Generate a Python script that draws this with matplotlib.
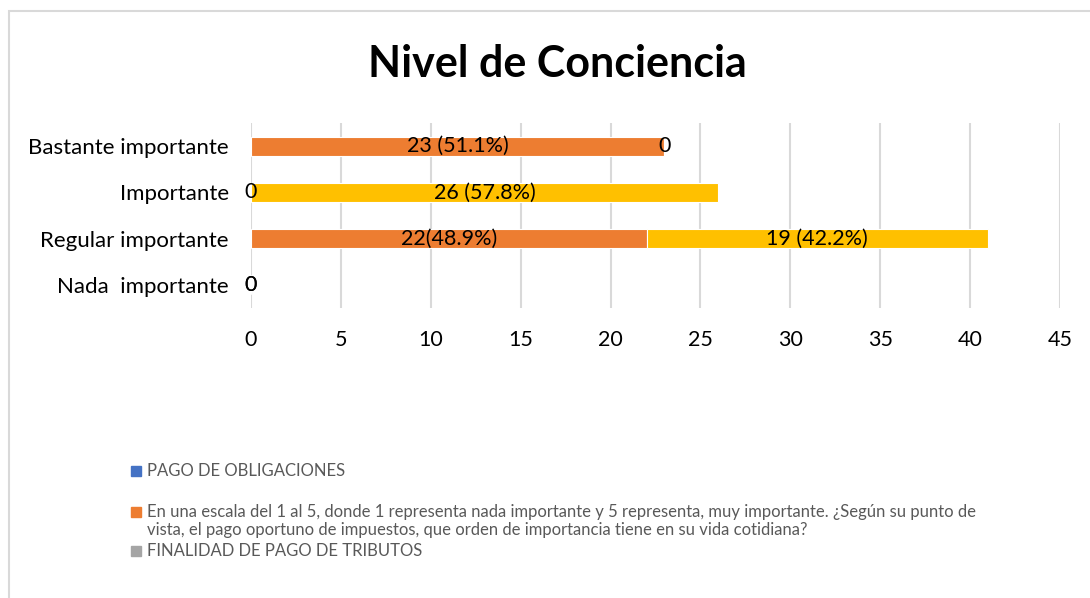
import matplotlib
matplotlib.use('Agg')
import matplotlib.pyplot as plt
from matplotlib.patches import Rectangle

# Data
categories = ['Nada  importante', 'Regular importante', 'Importante', 'Bastante importante']
orange_vals = [0, 22, 0, 23]
yellow_vals = [0, 19, 26, 0]
orange_labels = ['0', '22(48.9%)', '0', '23 (51.1%)']
yellow_labels = ['0', '19 (42.2%)', '26 (57.8%)', '0']
x_ticks = [0, 5, 10, 15, 20, 25, 30, 35, 40, 45]

legend_names = ['PAGO DE OBLIGACIONES',
                'En una escala del 1 al 5, donde 1 representa nada importante y 5 representa, muy importante. ¿Según su punto de\n'
                'vista, el pago oportuno de impuestos, que orden de importancia tiene en su vida cotidiana?',
                'FINALIDAD DE PAGO DE TRIBUTOS']
legend_colors = ['#4472C4', '#ED7D31', '#A5A5A5']

plt.rcParams['font.family'] = ['Lato', 'DejaVu Sans']

fig = plt.figure(figsize=(10.9, 5.98), dpi=100)
ax = fig.add_axes([251 / 1090, 1 - 308 / 598, 809 / 1090, 185 / 598])

y = range(len(categories))
b1 = ax.barh(y, orange_vals, height=0.41, color='#ED7D31', edgecolor='white', linewidth=0.8, zorder=3)
b2 = ax.barh(y, yellow_vals, left=orange_vals, height=0.41, color='#FFC000', edgecolor='white', linewidth=0.8, zorder=3)
ax.bar_label(b1, labels=orange_labels, label_type='center', fontsize=15.5, zorder=4)
ax.bar_label(b2, labels=yellow_labels, label_type='center', fontsize=15.5, zorder=4)

ax.set_xlim(0, 45)
ax.set_ylim(-0.5, 3.5)
ax.set_xticks(x_ticks)
ax.set_yticks(list(y))
ax.set_yticklabels(categories)
ax.tick_params(axis='x', length=0, labelsize=15.5, pad=16)
ax.tick_params(axis='y', length=0, labelsize=16, pad=16)
ax.grid(axis='x', color='#d9d9d9', linewidth=1.5, zorder=0)
for s in ax.spines.values():
    s.set_visible(False)

fig.text(0.511, 1 - 64 / 598, 'Nivel de Conciencia', ha='center', va='center',
         fontsize=31, fontweight='bold')

# Legend drawn by hand to keep the original spacing
legend_y = [471, 512, 551]
text_y = [471, 521, 551]
for name, col, ly, ty in zip(legend_names, legend_colors, legend_y, text_y):
    fig.patches.append(Rectangle((131 / 1090, 1 - (ly + 5) / 598), 10 / 1090, 10 / 598,
                                 transform=fig.transFigure, color=col))
    fig.text(147 / 1090, 1 - ty / 598, name, ha='left', va='center',
             fontsize=12, color='#595959', linespacing=1.08)

# Chart border
fig.patches.append(Rectangle((9 / 1090, -0.02), 1.1, 1 - 11 / 598 + 0.02,
                             transform=fig.transFigure, fill=False,
                             edgecolor='#d9d9d9', linewidth=1.5))

fig.savefig('out.png', dpi=100)
